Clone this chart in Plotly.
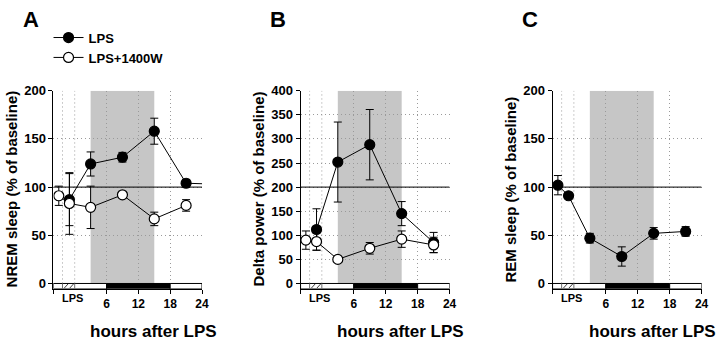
import plotly.graph_objects as go

# ---------------- data ----------------
hours_lps_A = [-1, 3, 9, 15, 21, 27]
nrem_lps = [87, 124, 131, 158, 104, 103]
nrem_lps_err = [27, 12.5, 5, 13.5, 4, 0]
hours_1400w = [-3, -1, 3, 9, 15, 21]
nrem_1400w = [91, 83, 79, 92, 67, 81]
nrem_1400w_err = [10, 32, 22, 2, 7, 6]

hours_lps_B = [-1, 3, 9, 15, 21]
delta_lps = [112, 252, 288, 145, 85]
delta_lps_err = [43, 83, 73, 25, 21]
delta_1400w = [90, 87, 50, 73, 92, 80]
delta_1400w_err = [19, 18, 4, 12, 17, 16]

hours_C = [-3, -1, 3, 9, 15, 21]
rem_lps = [102, 91, 47, 28, 52, 54]
rem_lps_err = [10, 3, 5, 10, 6, 5]

x_ticks = [-4, 6, 12, 18, 24]
x_ticklabels = ["", "6", "12", "18", "24"]
y_ticks_A = [0, 50, 100, 150, 200]
y_ticks_B = [0, 50, 100, 150, 200, 250, 300, 350, 400]
y_ticks_C = [0, 50, 100, 150, 200]
baselines = [100, 200, 100]
y_tops = [200, 400, 200]

phase_start = [-4, 6, 18]
phase_end = [6, 18, 24]
phase_dark = [False, True, False]
shade_period = [3, 15]
lps_window = [-2.3, 0]

panel_letters = ["A", "B", "C"]
y_titles = ["NREM sleep (% of baseline)", "Delta power (% of baseline)", "REM sleep (% of baseline)"]
x_title = "hours after LPS"
series_names = ["LPS", "LPS+1400W"]

# ---------------- layout geometry (pixels) ----------------
W, H = 720, 340
FONT = "Liberation Sans, Arial, sans-serif"
GRID = "#9a9a9a"
DOT = "1px,3px"
plot_x = [(54, 204), (303.5, 454), (558, 708.5)]
PT, PB, ZERO = 86, 289.5, 284
ydom = [(H - PB) / H, (H - PT) / H]

fig = go.Figure()

names = ["", "2", "3"]


def add_series(i, x, y, err, filled, name, show):
    fig.add_trace(go.Scatter(
        x=x, y=y, name=name, showlegend=show, mode="lines+markers",
        xaxis="x" + names[i], yaxis="y" + names[i],
        line=dict(color="black", width=1),
        marker=dict(size=10, color="black" if filled else "white",
                    line=dict(color="black", width=1.2)),
        error_y=dict(type="data", array=err, color="black", thickness=1, width=4),
    ))


add_series(0, hours_lps_A, nrem_lps, nrem_lps_err, True, series_names[0], True)
add_series(0, hours_1400w, nrem_1400w, nrem_1400w_err, False, series_names[1], True)
add_series(1, hours_lps_B, delta_lps, delta_lps_err, True, series_names[0], False)
add_series(1, hours_1400w, delta_1400w, delta_1400w_err, False, series_names[1], False)
add_series(2, hours_C, rem_lps, rem_lps_err, True, series_names[0], False)

y_ticks_all = [y_ticks_A, y_ticks_B, y_ticks_C]
shapes = []
annotations = []
layout = {}
for i in range(3):
    top = y_tops[i]
    ppu = (ZERO - PT) / top
    ymin = -(PB - ZERO) / ppu
    xa = "xaxis" + names[i]
    ya = "yaxis" + names[i]
    layout[xa] = dict(
        domain=[plot_x[i][0] / W, plot_x[i][1] / W], range=[-4, 24],
        anchor="y" + names[i], tickvals=x_ticks, ticktext=x_ticklabels,
        ticks="outside", ticklen=4, tickcolor="black", showline=True,
        linecolor="black", linewidth=1, showgrid=True, gridcolor=GRID,
        griddash=DOT, gridwidth=1, zeroline=False,
        tickfont=dict(family=FONT, size=12, color="black", weight="bold"),
    )
    layout[ya] = dict(
        domain=ydom, range=[ymin, top], anchor="x" + names[i],
        tickvals=y_ticks_all[i], ticks="outside", ticklen=4, tickcolor="black",
        showline=True, linecolor="black", linewidth=1, showgrid=True,
        gridcolor=GRID, griddash=DOT, gridwidth=1, zeroline=False,
        tickfont=dict(family=FONT, size=13, color="black", weight="bold"),
    )
    xr, yr = "x" + names[i], "y" + names[i]
    # grey shaded period
    shapes.append(dict(type="rect", xref=xr, yref=yr, x0=shade_period[0], x1=shade_period[1],
                       y0=0, y1=top, fillcolor="#c6c6c6", line=dict(width=0), layer="below"))
    # extra dotted gridlines around LPS window
    for gx in lps_window:
        shapes.append(dict(type="line", xref=xr, yref=yr, x0=gx, x1=gx, y0=0, y1=top,
                           line=dict(color=GRID, width=1, dash=DOT), layer="between"))
    # baseline
    shapes.append(dict(type="line", xref=xr, yref=yr, x0=-4, x1=24, y0=baselines[i], y1=baselines[i],
                       line=dict(color="black", width=1), layer="between"))
    # light/dark bar
    for s, e, d in zip(phase_start, phase_end, phase_dark):
        shapes.append(dict(type="rect", xref=xr, yref=yr, x0=s, x1=e, y0=ymin, y1=0,
                           fillcolor="black" if d else "white",
                           line=dict(color="black", width=1), layer="between"))
    # LPS hatched window
    for gx in lps_window:
        shapes.append(dict(type="line", xref=xr, yref=yr, x0=gx, x1=gx, y0=ymin, y1=0,
                           line=dict(color="#707070", width=1), layer="between"))
    w = lps_window[1] - lps_window[0]
    for k in range(2):
        a = lps_window[0] + w * (0.15 + 0.45 * k)
        shapes.append(dict(type="line", xref=xr, yref=yr, x0=a, x1=a + w * 0.3,
                           y0=ymin * 0.85, y1=ymin * 0.1,
                           line=dict(color="#404040", width=1), layer="between"))
    # annotations
    annotations.append(dict(text="LPS", xref=xr, yref="paper", x=-0.45, y=(H - 299) / H,
                            showarrow=False, xanchor="center", yanchor="middle",
                            font=dict(family=FONT, size=11, color="black", weight="bold")))
    annotations.append(dict(text=x_title, xref="paper", yref="paper",
                            x=(plot_x[i][0] + 101) / W, y=(H - 333) / H,
                            showarrow=False, xanchor="center", yanchor="middle",
                            font=dict(family=FONT, size=17, color="black", weight="bold")))
    annotations.append(dict(text=y_titles[i], xref="paper", yref="paper",
                            x=(plot_x[i][0] - 42.5) / W, y=(H - 187) / H, textangle=-90,
                            showarrow=False, xanchor="center", yanchor="middle",
                            font=dict(family=FONT, size=15, color="black", weight="bold")))
    annotations.append(dict(text=panel_letters[i], xref="paper", yref="paper",
                            x=(plot_x[i][0] - 23) / W, y=(H - 13) / H,
                            showarrow=False, xanchor="center", yanchor="middle",
                            font=dict(family=FONT, size=22, color="black", weight="bold")))

fig.update_layout(
    width=W, height=H, margin=dict(l=0, r=0, t=0, b=0),
    paper_bgcolor="white", plot_bgcolor="white",
    shapes=shapes, annotations=annotations,
    legend=dict(x=49 / W, y=(H - 16) / H, xanchor="left", yanchor="top",
                bgcolor="rgba(0,0,0,0)", tracegroupgap=0, itemwidth=30,
                font=dict(family=FONT, size=13, color="black", weight="bold")),
    **layout,
)

fig.write_html("out.html")
